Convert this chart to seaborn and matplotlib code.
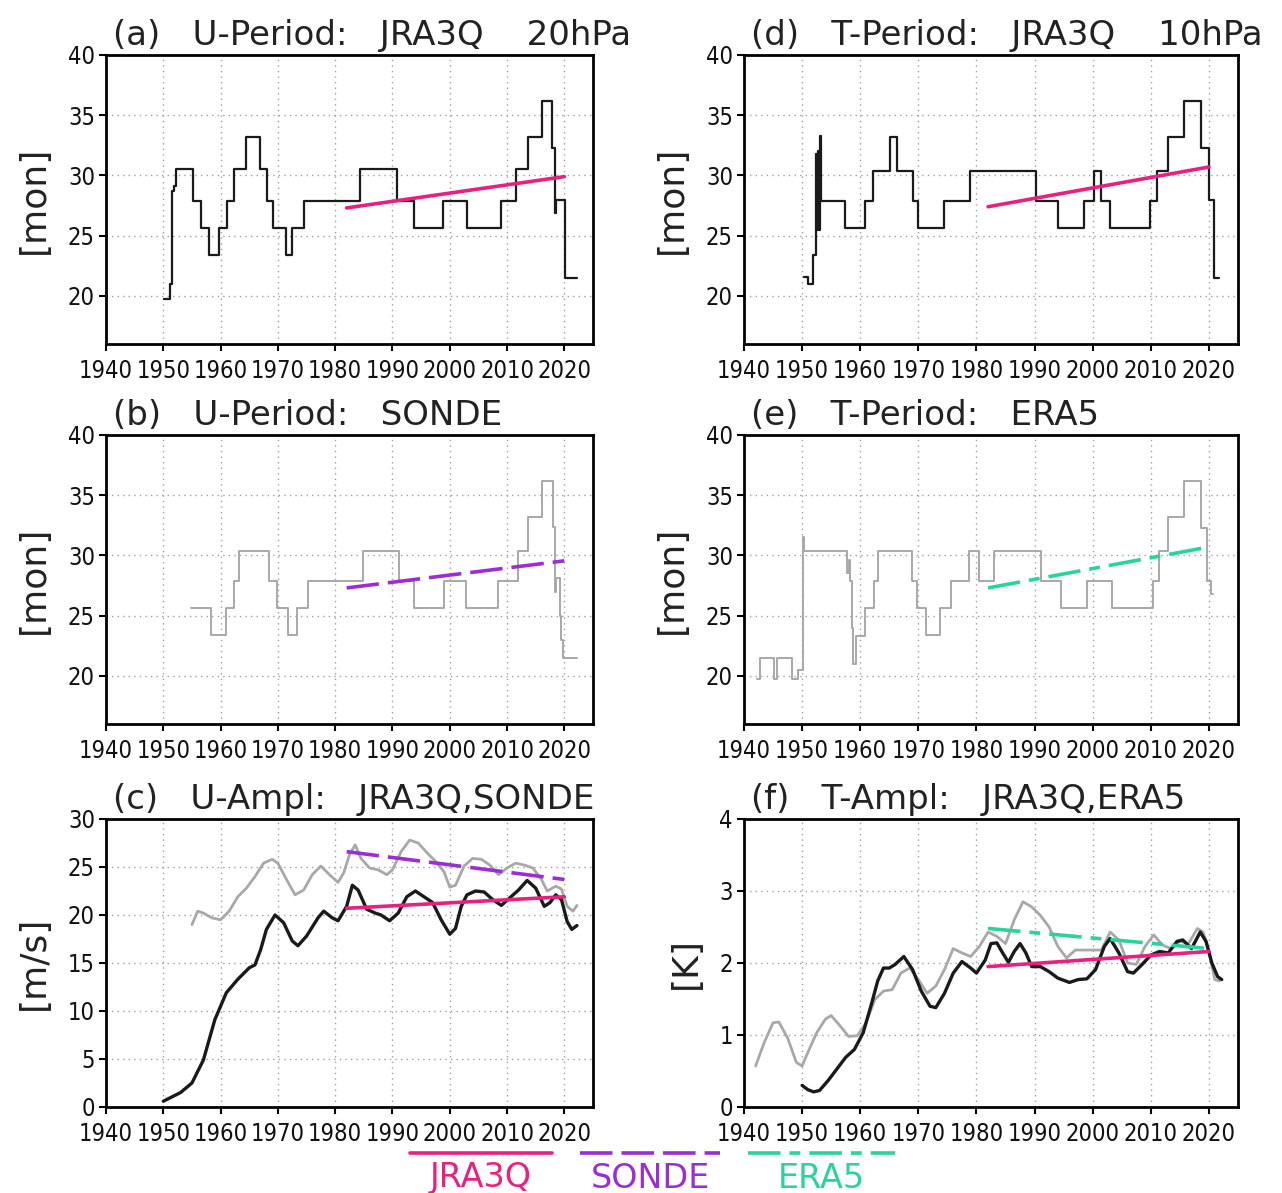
import matplotlib
matplotlib.use("Agg")
import matplotlib.pyplot as plt
from matplotlib import font_manager
from matplotlib.lines import Line2D
import seaborn as sns

# ---------------- data ----------------
# period panels: step start years and levels (steps-post, last value repeated at the end)
A_YEARS = [1950.2, 1951.2, 1951.6, 1951.8, 1952.2, 1955.1, 1956.5, 1958.0, 1959.7, 1961.2,
           1962.4, 1964.4, 1966.8, 1968.1, 1969.2, 1971.5, 1972.4, 1974.5, 1984.4, 1990.8,
           1993.8, 1998.8, 2003.0, 2009.0, 2011.6, 2013.6, 2016.1, 2017.8, 2018.4, 2018.6,
           2020.2, 2022.2]
A_MON = [19.7, 21.0, 28.7, 29.1, 30.5, 27.9, 25.6, 23.4, 25.6, 27.9,
         30.5, 33.2, 30.5, 27.9, 25.6, 23.4, 25.6, 27.9, 30.5, 27.9,
         25.6, 27.9, 25.6, 27.9, 30.5, 33.2, 36.2, 32.3, 26.9, 28.0,
         21.5, 21.5]

B_YEARS = [1954.9, 1958.4, 1960.9, 1962.3, 1963.2, 1968.5, 1969.9, 1971.8, 1973.3, 1975.2,
           1984.9, 1991.1, 1993.7, 1999.0, 2002.9, 2008.5, 2011.9, 2013.6, 2016.1, 2018.0,
           2018.4, 2018.6, 2019.3, 2019.5, 2019.8, 2022.2]
B_MON = [25.6, 23.4, 25.6, 27.9, 30.4, 27.9, 25.6, 23.4, 25.6, 27.9,
         30.4, 27.9, 25.6, 27.9, 25.6, 27.9, 30.4, 33.2, 36.2, 32.4,
         27.0, 28.1, 25.0, 23.0, 21.5, 21.5]

D_YEARS = [1950.3, 1951.0, 1951.8, 1952.4, 1952.5, 1952.7, 1952.9, 1953.0, 1953.3, 1957.3,
           1960.9, 1962.2, 1965.1, 1966.4, 1969.0, 1970.0, 1974.4, 1978.9, 1990.3, 1994.0,
           1998.5, 2000.3, 2001.4, 2003.0, 2009.9, 2011.1, 2012.9, 2015.7, 2018.6, 2020.0,
           2020.9, 2021.7]
D_MON = [21.6, 21.0, 23.4, 31.8, 25.5, 32.0, 25.5, 33.3, 27.9, 25.6,
         27.9, 30.4, 33.2, 30.4, 27.9, 25.6, 27.9, 30.4, 27.9, 25.6,
         27.9, 30.4, 27.9, 25.6, 27.9, 30.4, 33.2, 36.2, 32.3, 28.0,
         21.5, 21.5]

E_YEARS = [1942.3, 1942.7, 1945.1, 1945.7, 1948.3, 1949.3, 1950.1, 1950.3, 1957.7, 1958.0,
           1958.3, 1958.6, 1958.8, 1959.3, 1960.9, 1962.3, 1963.1, 1968.9, 1969.8, 1971.4,
           1973.7, 1975.7, 1978.7, 1980.4, 1983.1, 1991.1, 1994.6, 1999.1, 2003.4, 2010.3,
           2011.4, 2013.0, 2015.7, 2018.6, 2019.7, 2020.3, 2020.7]
E_MON = [19.7, 21.5, 19.7, 21.5, 19.7, 20.5, 31.5, 30.4, 28.5, 29.6,
         27.9, 24.0, 21.0, 23.3, 25.6, 27.9, 30.4, 27.9, 25.6, 23.4,
         25.6, 27.9, 30.4, 27.9, 30.4, 27.9, 25.6, 27.9, 25.6, 27.9,
         30.4, 33.2, 36.2, 32.3, 27.9, 26.8, 26.8]

# amplitude panels
C_JRA_YEARS = [1950, 1953, 1955, 1957, 1959, 1961, 1963, 1965, 1966, 1967, 1968, 1969.5,
               1971, 1972.5, 1973.5, 1975, 1977, 1978, 1979.5, 1980.5, 1982, 1983, 1984,
               1985.5, 1987, 1988, 1989.5, 1991, 1992.5, 1994, 1995.5, 1997, 1998.5, 2000,
               2001, 2002, 2003, 2004.5, 2006, 2007.5, 2009, 2010.5, 2012, 2013.5, 2015,
               2016.5, 2017.5, 2018.5, 2019.5, 2020.5, 2021.3, 2022.2]
C_JRA_AMP = [0.6, 1.5, 2.5, 4.9, 9.1, 11.9, 13.3, 14.5, 14.8, 16.4, 18.5, 20.0,
             19.2, 17.3, 16.8, 17.8, 19.7, 20.4, 19.7, 19.4, 20.9, 23.1, 22.6,
             20.6, 20.2, 20.0, 19.4, 20.2, 21.9, 22.5, 21.9, 21.3, 19.5, 18.0,
             18.6, 20.9, 22.1, 22.5, 22.4, 21.6, 21.0, 21.8, 22.6, 23.6, 22.8,
             20.9, 21.3, 22.1, 21.6, 19.3, 18.5, 18.9]

C_SONDE_YEARS = [1955, 1956, 1957, 1958.5, 1960, 1961.5, 1963, 1964.5, 1966, 1967.5, 1969,
                 1970, 1971.5, 1973, 1974.5, 1976, 1977.5, 1979, 1980.5, 1981.5, 1982.5,
                 1983.5, 1984.5, 1986, 1987.5, 1989, 1990, 1991.5, 1993, 1994.5, 1996,
                 1997.5, 1999, 2000, 2001, 2002.5, 2004, 2005.5, 2007, 2008.5, 2010,
                 2011.5, 2013, 2014.5, 2016, 2017, 2018.5, 2019.5, 2020.5, 2021.5, 2022.2]
C_SONDE_AMP = [19.0, 20.4, 20.2, 19.7, 19.5, 20.4, 21.9, 22.8, 24.0, 25.4, 25.8,
               25.4, 23.7, 22.1, 22.6, 24.2, 25.1, 24.2, 23.4, 24.4, 26.3,
               27.3, 25.9, 24.9, 24.7, 24.2, 24.7, 26.6, 27.8, 27.5, 26.5,
               25.6, 24.5, 22.9, 23.1, 25.1, 25.9, 25.8, 25.2, 24.2, 24.9,
               25.4, 25.2, 24.9, 23.7, 22.5, 23.0, 22.7, 20.9, 20.4, 21.0]

F_JRA_YEARS = [1950, 1951, 1952, 1953, 1954.5, 1956, 1957.5, 1959, 1960.5, 1962, 1963, 1964,
               1965, 1966, 1967.5, 1969, 1970.5, 1972, 1973, 1974.5, 1976, 1977.5, 1979,
               1980, 1981.5, 1982.5, 1983.5, 1984.5, 1985.5, 1986.5, 1987.5, 1988.5, 1989.5,
               1991, 1992.5, 1994, 1996, 1997.5, 1999, 2000.5, 2002, 2003, 2004.5, 2006,
               2007, 2008.5, 2010, 2011.5, 2013, 2014.5, 2015.5, 2017, 2018.5, 2019.5,
               2020.5, 2021.5, 2022.2]
F_JRA_AMP = [0.30, 0.24, 0.21, 0.23, 0.37, 0.53, 0.69, 0.80, 1.03, 1.45, 1.75, 1.93,
             1.93, 1.98, 2.09, 1.91, 1.61, 1.40, 1.38, 1.58, 1.86, 2.02, 1.93,
             1.86, 2.04, 2.27, 2.28, 2.14, 2.01, 2.16, 2.27, 2.14, 1.95,
             1.95, 1.88, 1.79, 1.73, 1.77, 1.78, 1.91, 2.23, 2.34, 2.14, 1.88,
             1.86, 1.98, 2.11, 2.16, 2.14, 2.30, 2.32, 2.20, 2.43, 2.30,
             2.00, 1.81, 1.77]

F_ERA_YEARS = [1942, 1943.5, 1945, 1946, 1947.5, 1949, 1950, 1951, 1952.5, 1954, 1955,
               1956.5, 1958, 1959.5, 1961, 1962.5, 1964, 1965.5, 1967, 1968.5, 1970,
               1971.5, 1973, 1974.5, 1976, 1977.5, 1979, 1980.5, 1982, 1983.5, 1985,
               1986.5, 1988, 1989.5, 1991, 1992.5, 1994, 1995.5, 1997, 1998.5, 2000,
               2001.5, 2003, 2004.5, 2006, 2007.5, 2009, 2010.5, 2012, 2013.5, 2015,
               2016.5, 2018, 2019, 2020, 2021, 2021.8]
F_ERA_AMP = [0.57, 0.90, 1.17, 1.18, 0.96, 0.62, 0.57, 0.76, 1.03, 1.22, 1.27,
             1.13, 0.98, 0.99, 1.17, 1.49, 1.61, 1.63, 1.86, 1.93, 1.77,
             1.58, 1.68, 1.91, 2.20, 2.14, 2.09, 2.23, 2.43, 2.37, 2.27,
             2.60, 2.85, 2.78, 2.66, 2.50, 2.23, 2.07, 2.18, 2.18, 2.18,
             2.18, 2.43, 2.32, 2.00, 1.98, 2.23, 2.39, 2.25, 2.20, 2.30,
             2.27, 2.48, 2.43, 2.16, 1.77, 1.75]

# linear trends 1982-2020
TREND_YEARS = [1982, 2020]
A_TREND = [27.3, 29.9]
B_TREND = [27.3, 29.55]
C_TREND_JRA = [20.7, 21.9]
C_TREND_SONDE = [26.6, 23.7]
D_TREND = [27.4, 30.7]
E_TREND = [27.3, 30.7]
F_TREND_JRA = [1.95, 2.16]
F_TREND_ERA = [2.48, 2.20]

XTICKS = list(range(1940, 2030, 10))
PERIOD_TICKS = [20, 25, 30, 35, 40]
U_AMP_TICKS = [0, 5, 10, 15, 20, 25, 30]
T_AMP_TICKS = [0, 1, 2, 3, 4]

JRA_COLOR = "#E8207F"
SONDE_COLOR = "#9A2DD6"
ERA_COLOR = "#27D49A"
BLACK = "#1a1a1a"
GRAY = "#a8a8a8"
SONDE_DASH = (0, (9, 2.5))
ERA_DASH = (0, (9, 2.5, 3, 2.5))

sns.set_theme(style="ticks")
plt.rcParams["font.family"] = ["DejaVu Sans"]

# narrow face for tick labels if one is installed
condensed = any(f.name == "DejaVu Sans" and f.stretch == "condensed"
                for f in font_manager.fontManager.ttflist)
TICK_STRETCH = "condensed" if condensed else "normal"
TICK_SIZE = 17 if condensed else 15


def line(ax, x, y, color, lw, ls="-", steps=False):
    kws = dict(drawstyle="steps-post") if steps else {}
    sns.lineplot(x=x, y=y, ax=ax, color=color, linewidth=lw, linestyle=ls,
                 estimator=None, sort=False, **kws)


def style_axes(ax, ylim, yticks, ylabel, title):
    ax.set_xlim(1940, 2025)
    ax.set_ylim(*ylim)
    ax.set_xticks(XTICKS)
    ax.set_yticks(yticks)
    ax.grid(True, linestyle=(0, (1, 3)), color="#a0a0a0", linewidth=1.0)
    ax.tick_params(direction="out", length=5, width=1.5, colors="black")
    ax.tick_params(axis="x", pad=6)
    ax.tick_params(axis="y", pad=3)
    for lab in ax.get_xticklabels() + ax.get_yticklabels():
        lab.set_fontstretch(TICK_STRETCH)
        lab.set_fontsize(TICK_SIZE)
        lab.set_color("#111111")
    for sp in ax.spines.values():
        sp.set_visible(True)
        sp.set_linewidth(2.0)
        sp.set_color("black")
    ax.set_xlabel("")
    ax.set_ylabel(ylabel, fontsize=26, labelpad=12, color="#222222")
    ax.text(0.015, 1.01, title, transform=ax.transAxes, ha="left", va="bottom",
            fontsize=24.5, color="#222222")


fig = plt.figure(figsize=(12.82, 11.93), dpi=100)
LEFT_X, RIGHT_X = 106 / 1282, 744 / 1282
LEFT_W, RIGHT_W = 487 / 1282, 494 / 1282
ROWS = [(344, 55), (724, 435), (1107, 819)]


def make_ax(col, row):
    bottom_px, top_px = ROWS[row]
    x0 = LEFT_X if col == 0 else RIGHT_X
    w = LEFT_W if col == 0 else RIGHT_W
    return fig.add_axes([x0, 1 - bottom_px / 1193, w, (bottom_px - top_px) / 1193])


ax_a, ax_b, ax_c = make_ax(0, 0), make_ax(0, 1), make_ax(0, 2)
ax_d, ax_e, ax_f = make_ax(1, 0), make_ax(1, 1), make_ax(1, 2)

# (a)
line(ax_a, A_YEARS, A_MON, BLACK, 1.6, steps=True)
line(ax_a, TREND_YEARS, A_TREND, JRA_COLOR, 2.6)
style_axes(ax_a, (16, 40), PERIOD_TICKS, "[mon]", "(a)   U-Period:   JRA3Q    20hPa")

# (b)
line(ax_b, B_YEARS, B_MON, GRAY, 1.4, steps=True)
line(ax_b, TREND_YEARS, B_TREND, SONDE_COLOR, 2.6, ls=SONDE_DASH)
style_axes(ax_b, (16, 40), PERIOD_TICKS, "[mon]", "(b)   U-Period:   SONDE")

# (c)
line(ax_c, C_SONDE_YEARS, C_SONDE_AMP, GRAY, 2.0)
line(ax_c, C_JRA_YEARS, C_JRA_AMP, BLACK, 2.4)
line(ax_c, TREND_YEARS, C_TREND_SONDE, SONDE_COLOR, 2.6, ls=SONDE_DASH)
line(ax_c, TREND_YEARS, C_TREND_JRA, JRA_COLOR, 2.6)
style_axes(ax_c, (0, 30), U_AMP_TICKS, "[m/s]", "(c)   U-Ampl:   JRA3Q,SONDE")

# (d)
line(ax_d, D_YEARS, D_MON, BLACK, 1.6, steps=True)
line(ax_d, TREND_YEARS, D_TREND, JRA_COLOR, 2.6)
style_axes(ax_d, (16, 40), PERIOD_TICKS, "[mon]", "(d)   T-Period:   JRA3Q    10hPa")

# (e)
line(ax_e, E_YEARS, E_MON, GRAY, 1.4, steps=True)
line(ax_e, TREND_YEARS, E_TREND, ERA_COLOR, 2.6, ls=ERA_DASH)
style_axes(ax_e, (16, 40), PERIOD_TICKS, "[mon]", "(e)   T-Period:   ERA5")

# (f)
line(ax_f, F_ERA_YEARS, F_ERA_AMP, GRAY, 2.0)
line(ax_f, F_JRA_YEARS, F_JRA_AMP, BLACK, 2.4)
line(ax_f, TREND_YEARS, F_TREND_ERA, ERA_COLOR, 2.6, ls=ERA_DASH)
line(ax_f, TREND_YEARS, F_TREND_JRA, JRA_COLOR, 2.6)
style_axes(ax_f, (0, 4), T_AMP_TICKS, "[K]", "(f)   T-Ampl:   JRA3Q,ERA5")

# legend along the bottom
legend_items = [("JRA3Q", JRA_COLOR, "-", 410, 552),
                ("SONDE", SONDE_COLOR, SONDE_DASH, 580, 720),
                ("ERA5", ERA_COLOR, ERA_DASH, 748, 895)]
for label, color, ls, x0, x1 in legend_items:
    y = 1 - 1153 / 1193
    fig.add_artist(Line2D([x0 / 1282, x1 / 1282], [y, y], transform=fig.transFigure,
                          color=color, linewidth=2.6, linestyle=ls))
    fig.text((x0 + x1) / 2 / 1282, 1 - 1178 / 1193, label, color=color,
             ha="center", va="center", fontsize=24)

fig.savefig("out.png", dpi=100)
